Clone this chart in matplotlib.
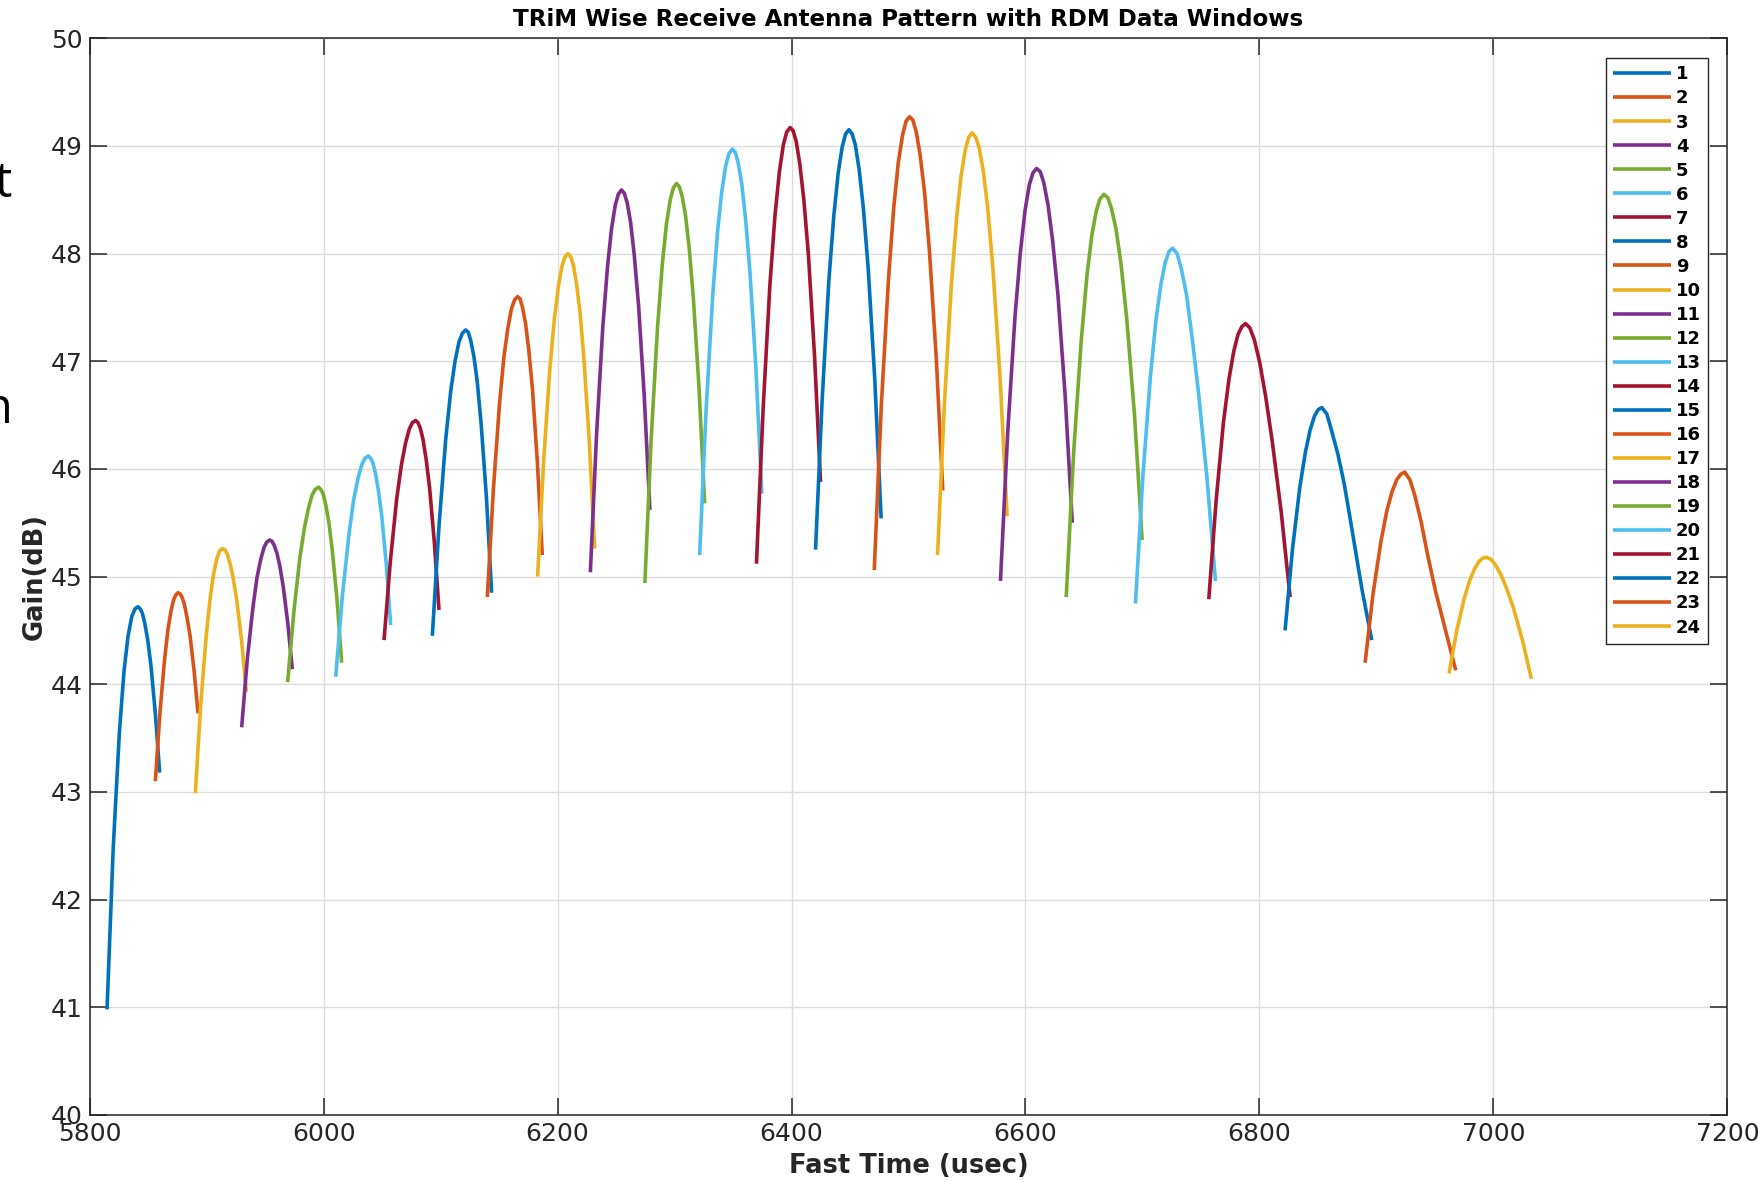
import matplotlib
matplotlib.use('Agg')
import matplotlib.pyplot as plt

# fast time (usec) and gain (dB)
fast_time = [
    [5814.8, 5820.1, 5825.4, 5829.4, 5832.8, 5836.0, 5838.7, 5841.3, 5843.2, 5845.0, 5847.2, 5849.6, 5852.4, 5856.1, 5859.8],
    [5856.1, 5860.0, 5863.9, 5866.8, 5869.3, 5871.6, 5873.6, 5875.5, 5877.2, 5878.9, 5881.0, 5883.2, 5885.8, 5889.2, 5892.6],
    [5890.3, 5894.9, 5899.5, 5903.0, 5906.0, 5908.8, 5911.1, 5913.4, 5915.5, 5917.5, 5920.0, 5922.6, 5925.7, 5929.8, 5933.9],
    [5929.9, 5934.7, 5939.5, 5943.0, 5946.2, 5949.0, 5951.4, 5953.8, 5955.7, 5957.7, 5960.0, 5962.5, 5965.4, 5969.3, 5973.2],
    [5969.2, 5974.5, 5979.7, 5983.7, 5987.1, 5990.2, 5992.9, 5995.5, 5997.5, 5999.5, 6001.9, 6004.5, 6007.4, 6011.4, 6015.4],
    [6010.3, 6015.9, 6021.5, 6025.6, 6029.3, 6032.6, 6035.4, 6038.2, 6040.1, 6042.0, 6044.3, 6046.8, 6049.7, 6053.5, 6057.3],
    [6051.6, 6057.0, 6062.4, 6066.5, 6070.0, 6073.2, 6075.9, 6078.6, 6080.6, 6082.6, 6085.0, 6087.6, 6090.6, 6094.6, 6098.6],
    [6092.9, 6098.6, 6104.3, 6108.6, 6112.3, 6115.7, 6118.6, 6121.4, 6123.6, 6125.8, 6128.5, 6131.4, 6134.7, 6139.2, 6143.6],
    [6139.9, 6145.1, 6150.3, 6154.1, 6157.5, 6160.6, 6163.2, 6165.8, 6167.9, 6170.0, 6172.6, 6175.3, 6178.5, 6182.7, 6186.9],
    [6182.9, 6188.1, 6193.3, 6197.2, 6200.6, 6203.7, 6206.3, 6208.9, 6211.2, 6213.5, 6216.2, 6219.2, 6222.6, 6227.1, 6231.7],
    [6228.0, 6233.3, 6238.6, 6242.6, 6246.1, 6249.3, 6251.9, 6254.6, 6257.0, 6259.5, 6262.4, 6265.5, 6269.2, 6274.0, 6278.9],
    [6274.6, 6280.0, 6285.4, 6289.5, 6293.0, 6296.3, 6299.0, 6301.7, 6304.1, 6306.5, 6309.4, 6312.5, 6316.1, 6320.9, 6325.7],
    [6321.4, 6327.0, 6332.6, 6336.8, 6340.4, 6343.8, 6346.6, 6349.4, 6351.9, 6354.4, 6357.5, 6360.7, 6364.5, 6369.6, 6374.6],
    [6370.0, 6375.8, 6381.5, 6385.8, 6389.6, 6393.0, 6395.9, 6398.8, 6401.4, 6404.0, 6407.1, 6410.5, 6414.4, 6419.6, 6424.8],
    [6420.5, 6426.2, 6431.9, 6436.2, 6439.9, 6443.3, 6446.2, 6449.0, 6451.8, 6454.5, 6457.8, 6461.4, 6465.6, 6471.1, 6476.6],
    [6470.7, 6476.7, 6482.8, 6487.3, 6491.2, 6494.9, 6497.9, 6500.9, 6503.7, 6506.6, 6510.0, 6513.7, 6517.9, 6523.6, 6529.3],
    [6524.8, 6530.7, 6536.6, 6541.1, 6544.9, 6548.5, 6551.4, 6554.4, 6557.4, 6560.4, 6564.0, 6567.9, 6572.3, 6578.3, 6584.3],
    [6578.6, 6584.8, 6591.0, 6595.6, 6599.6, 6603.3, 6606.4, 6609.5, 6612.6, 6615.6, 6619.3, 6623.2, 6627.8, 6633.9, 6640.0],
    [6634.8, 6641.2, 6647.7, 6652.5, 6656.7, 6660.6, 6663.8, 6667.0, 6670.3, 6673.5, 6677.5, 6681.7, 6686.6, 6693.2, 6699.7],
    [6694.0, 6700.4, 6706.8, 6711.5, 6715.7, 6719.5, 6722.7, 6725.9, 6729.6, 6733.2, 6737.6, 6742.3, 6747.8, 6755.1, 6762.4],
    [6756.7, 6763.0, 6769.2, 6773.9, 6778.0, 6781.7, 6784.9, 6788.0, 6791.8, 6795.6, 6800.2, 6805.2, 6810.9, 6818.6, 6826.2],
    [6821.9, 6828.2, 6834.5, 6839.2, 6843.3, 6847.0, 6850.2, 6853.3, 6857.6, 6861.8, 6867.0, 6872.5, 6878.9, 6887.5, 6896.0],
    [6890.3, 6897.1, 6903.9, 6908.9, 6913.4, 6917.4, 6920.8, 6924.2, 6928.6, 6932.9, 6938.2, 6943.8, 6950.4, 6959.1, 6967.8],
    [6962.1, 6968.5, 6974.9, 6979.6, 6983.8, 6987.6, 6990.8, 6994.0, 6997.9, 7001.7, 7006.3, 7011.3, 7017.1, 7024.8, 7032.5],
]
gain_db = [
    [40.98, 42.48, 43.56, 44.13, 44.45, 44.63, 44.70, 44.72, 44.70, 44.66, 44.56, 44.41, 44.17, 43.73, 43.18],
    [43.10, 43.73, 44.22, 44.50, 44.67, 44.78, 44.83, 44.85, 44.84, 44.81, 44.74, 44.62, 44.45, 44.13, 43.73],
    [42.99, 43.81, 44.44, 44.80, 45.03, 45.17, 45.24, 45.26, 45.25, 45.21, 45.12, 44.99, 44.78, 44.41, 43.93],
    [43.60, 44.23, 44.71, 44.99, 45.16, 45.27, 45.32, 45.34, 45.33, 45.29, 45.22, 45.10, 44.91, 44.57, 44.14],
    [44.02, 44.67, 45.18, 45.46, 45.64, 45.76, 45.81, 45.83, 45.81, 45.77, 45.66, 45.50, 45.24, 44.79, 44.20],
    [44.07, 44.81, 45.38, 45.71, 45.91, 46.04, 46.10, 46.12, 46.10, 46.06, 45.96, 45.80, 45.56, 45.12, 44.55],
    [44.41, 45.14, 45.72, 46.04, 46.24, 46.37, 46.43, 46.45, 46.43, 46.38, 46.27, 46.09, 45.82, 45.32, 44.69],
    [44.45, 45.47, 46.27, 46.72, 47.00, 47.18, 47.26, 47.29, 47.27, 47.19, 47.04, 46.80, 46.41, 45.73, 44.85],
    [44.81, 45.81, 46.60, 47.04, 47.31, 47.49, 47.57, 47.60, 47.58, 47.50, 47.35, 47.11, 46.74, 46.06, 45.20],
    [45.00, 46.08, 46.92, 47.39, 47.69, 47.88, 47.97, 48.00, 47.97, 47.89, 47.72, 47.45, 47.01, 46.25, 45.26],
    [45.04, 46.32, 47.31, 47.87, 48.23, 48.45, 48.55, 48.59, 48.56, 48.47, 48.29, 47.99, 47.52, 46.69, 45.62],
    [44.94, 46.28, 47.31, 47.90, 48.27, 48.50, 48.61, 48.65, 48.62, 48.53, 48.35, 48.05, 47.58, 46.75, 45.68],
    [45.20, 46.56, 47.61, 48.21, 48.58, 48.82, 48.93, 48.97, 48.94, 48.84, 48.64, 48.32, 47.82, 46.92, 45.77],
    [45.12, 46.58, 47.71, 48.35, 48.76, 49.01, 49.13, 49.17, 49.14, 49.04, 48.83, 48.50, 47.99, 47.06, 45.88],
    [45.25, 46.65, 47.75, 48.36, 48.75, 48.99, 49.11, 49.15, 49.11, 49.01, 48.78, 48.42, 47.85, 46.84, 45.54],
    [45.06, 46.58, 47.75, 48.42, 48.84, 49.10, 49.23, 49.27, 49.24, 49.13, 48.91, 48.57, 48.02, 47.05, 45.80],
    [45.20, 46.61, 47.71, 48.33, 48.72, 48.96, 49.08, 49.12, 49.08, 48.98, 48.76, 48.40, 47.84, 46.84, 45.56],
    [44.96, 46.34, 47.41, 48.01, 48.40, 48.64, 48.75, 48.79, 48.76, 48.66, 48.45, 48.12, 47.61, 46.68, 45.50],
    [44.81, 46.16, 47.20, 47.79, 48.17, 48.40, 48.51, 48.55, 48.52, 48.42, 48.22, 47.90, 47.39, 46.50, 45.34],
    [44.75, 45.94, 46.86, 47.38, 47.71, 47.92, 48.02, 48.05, 48.00, 47.86, 47.62, 47.23, 46.72, 45.92, 44.96],
    [44.79, 45.71, 46.43, 46.83, 47.09, 47.25, 47.32, 47.35, 47.31, 47.20, 46.99, 46.68, 46.26, 45.60, 44.81],
    [44.50, 45.25, 45.83, 46.15, 46.36, 46.49, 46.55, 46.57, 46.51, 46.35, 46.14, 45.86, 45.45, 44.89, 44.41],
    [44.20, 44.84, 45.33, 45.61, 45.79, 45.90, 45.95, 45.97, 45.90, 45.75, 45.51, 45.20, 44.87, 44.50, 44.13],
    [44.10, 44.49, 44.79, 44.96, 45.07, 45.14, 45.17, 45.18, 45.16, 45.11, 45.02, 44.89, 44.71, 44.41, 44.05],
]
window_names = [str(n) for n in range(1, 25)]
x_ticks = [5800, 6000, 6200, 6400, 6600, 6800, 7000, 7200]
y_ticks = [40, 41, 42, 43, 44, 45, 46, 47, 48, 49, 50]

colors = ['#0072BD', '#D95319', '#EDB120', '#7E2F8E', '#77AC30', '#4DBEEE', '#A2142F']
dark = '#262626'

fig = plt.figure(figsize=(17.59, 11.82), dpi=100)
ax = fig.add_axes([0.051, 0.0567, 0.931, 0.911])

for i, (t, g) in enumerate(zip(fast_time, gain_db)):
    ax.plot(t, g, color=colors[i % len(colors)], lw=2.6, label=window_names[i],
            solid_joinstyle='round', solid_capstyle='butt')

ax.set_xlim(5800, 7200)
ax.set_ylim(40, 50)
ax.set_xticks(x_ticks)
ax.set_yticks(y_ticks)
ax.grid(True, color='#dcdcdc', lw=1.0)
ax.set_axisbelow(True)
ax.tick_params(direction='in', length=12, width=1.1, top=True, right=True,
               colors=dark, labelsize=18, pad=5)
for s in ax.spines.values():
    s.set_color(dark)
    s.set_linewidth(1.1)

ax.set_title('TRiM Wise Receive Antenna Pattern with RDM Data Windows',
             fontsize=16.6, fontweight='bold', color='black', pad=9)
ax.set_xlabel('Fast Time (usec)', fontsize=18.5, fontweight='bold', color=dark, labelpad=5)
ax.set_ylabel('Gain(dB)', fontsize=18.5, fontweight='bold', color=dark, labelpad=2)

leg = ax.legend(loc='upper right', bbox_to_anchor=(0.9884, 0.9814), borderaxespad=0,
                fancybox=False, edgecolor=dark, framealpha=1,
                prop={'weight': 'bold', 'size': 13}, handlelength=3.2,
                handletextpad=0.3, labelspacing=0.335, borderpad=0.4)
leg.get_frame().set_linewidth(1.0)

# cropped slide text at the left edge of the screenshot
fig.text(-0.0034, 0.833, 't', fontsize=35, family='Open Sans', color='black')
fig.text(-0.0097, 0.642, 'n', fontsize=35, family='Open Sans', color='black')

fig.savefig('out.png', dpi=100)
